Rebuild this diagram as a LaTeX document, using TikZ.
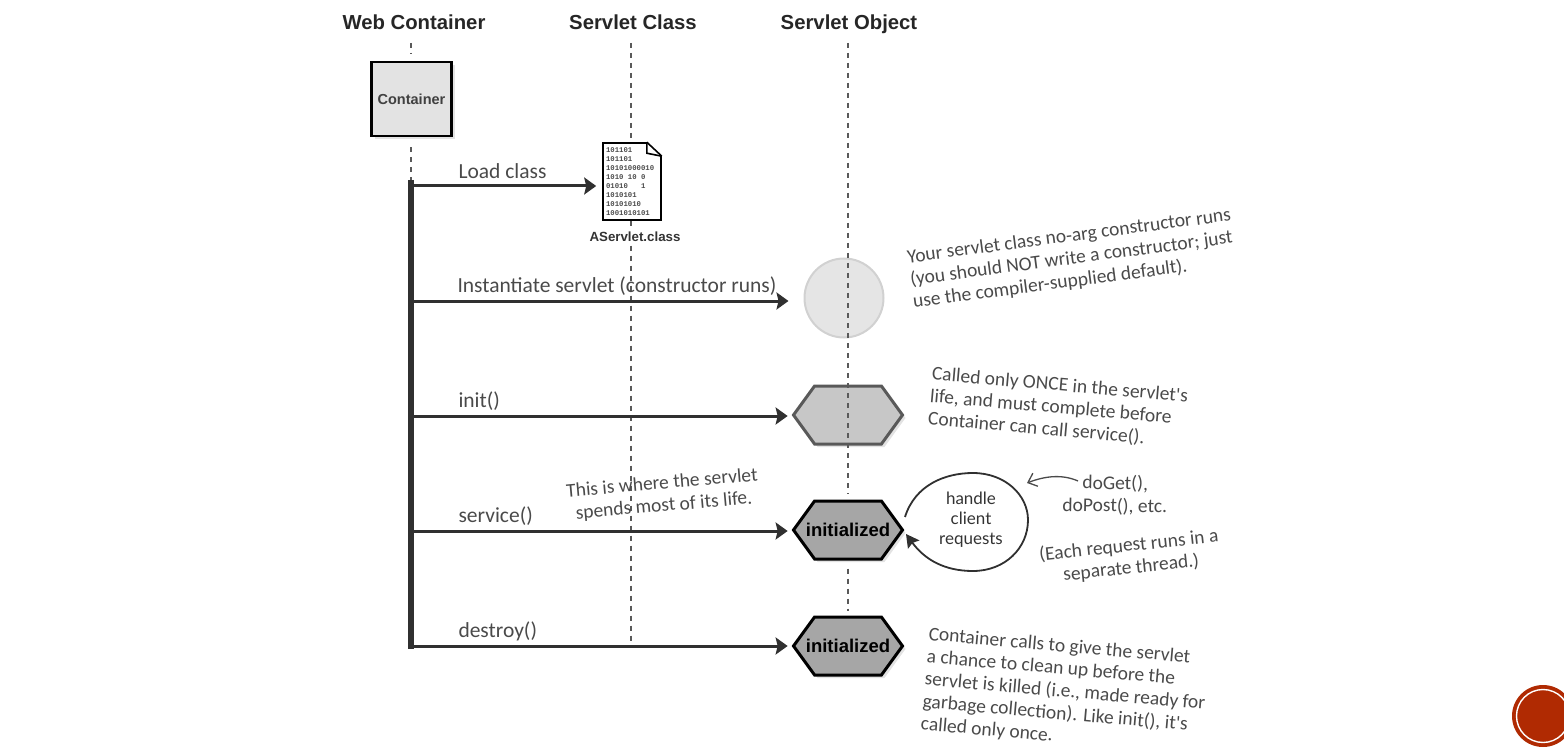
\documentclass[tikz,border=0pt]{standalone}
\usepackage{fontspec}
\setmainfont{Liberation Sans}
\setmonofont{Liberation Mono}
\newfontfamily\handfont{Carlito}
\newfontfamily\bubblefont{Lato}
\usetikzlibrary{arrows.meta,shapes.symbols,shadows}
\definecolor{handgray}{HTML}{4A4A4A}
\definecolor{darkline}{HTML}{303030}
\definecolor{badgered}{HTML}{B02A02}
\tikzset{
  titlelabel/.style={font=\fontsize{20.3}{24}\selectfont\bfseries, text=black!85, anchor=base},
  lifeline/.style={dash pattern=on 5pt off 5pt, line width=1.2pt, black!65},
  callarrow/.style={-{Stealth[length=12pt,width=17pt,inset=2pt]}, line width=3pt, darkline},
  calllabel/.style={font=\handfont\fontsize{21.5}{24}\selectfont, text=handgray, anchor=west, inner sep=0pt},
  handnote/.style={font=\handfont\fontsize{19.5}{22.5}\selectfont, text=handgray, inner sep=0pt},
  objecthex/.style={signal, signal to=west and east, signal pointer angle=108, minimum width=109pt,
    minimum height=58pt, inner sep=0pt, line width=3pt, font=\fontsize{18.5}{20}\selectfont\bfseries,
    drop shadow={shadow xshift=3pt, shadow yshift=-3pt, fill=black!22}},
}
\begin{document}
\begin{tikzpicture}[x=1pt, y=-1pt, line width=1pt]
  \useasboundingbox (0,0) rectangle (1564,754);
  % column titles
  \node[titlelabel] (webtitle) at (414,30) {Web Container};
  \node[titlelabel] (classtitle) at (633,30) {Servlet Class};
  \node[titlelabel] (objecttitle) at (849,30) {Servlet Object};
  \coordinate (webtop) at (411,43);
  \coordinate (classtop) at (631,43);
  \coordinate (classbot) at (631,645);
  \coordinate (objecttop) at (848,43);
  \coordinate (bartop) at (411,180);
  \coordinate (barbot) at (411,649);
  % the five calls start here
  \coordinate (loadstart) at (411,186);
  \coordinate (newstart) at (411,301);
  \coordinate (initstart) at (411,416);
  \coordinate (servicestart) at (411,531);
  \coordinate (destroystart) at (411,646);
  % container
  \node[draw=black, fill=black!11, line width=2.8pt, minimum width=80pt, minimum height=74pt, inner sep=0pt,
    font=\fontsize{14.5}{18}\selectfont\bfseries, text=black!75,
    drop shadow={shadow xshift=3pt, shadow yshift=-3pt, fill=black!22}] (container) at (411.5,99) {Container};
  \draw[lifeline, shorten >=7pt] (webtop) -- (webtop |- container.north);
  \draw[lifeline, shorten <=10pt] (bartop |- container.south) -- (bartop);
  % class file
  \node[draw=black, fill=white, line width=1.6pt, minimum width=58pt, minimum height=77pt, inner sep=0pt] (classfile) at (632,181.5)
    {\begin{minipage}{52pt}\ttfamily\bfseries\fontsize{7.3}{8.9}\selectfont\color{black!70}101101\\101101\\10101000010\\1010 10 0\\01010~~~1\\1010101\\10101010\\1001010101\end{minipage}};
  \draw[lifeline] (classtop) -- (classtop |- classfile.north);
  \fill[white] (classfile.north east) ++(-15,-1) rectangle ++(16,15);
  \draw[line width=1.6pt] (classfile.north east) ++(-15,0) -- ++(15,14);
  \draw[line width=1.6pt] (classfile.north east) ++(-15,0) -- ++(0,11) -- ++(15,3);
  \node[font=\fontsize{13.3}{17}\selectfont\bfseries, text=black!80] (classname) at (635,237) {AServlet.class};
  \draw[lifeline] (classbot |- classfile.south) -- (classbot |- classname.north);
  \draw[lifeline] (classbot |- classname.south) -- (classbot);
  % servlet object states
  \node[circle, draw=black!18, fill=black!10, line width=2pt, minimum size=79pt, inner sep=0pt] (objectnew) at (844,298) {};
  \node[objecthex, draw=black!65, fill=black!22] (hexinit) at (848,415) {};
  \node[objecthex, draw=black, fill=black!35] (hexservice) at (848,530) {\makebox[0pt]{initialized}};
  \node[objecthex, draw=black, fill=black!35] (hexdestroy) at (848,646) {\makebox[0pt]{initialized}};
  \draw[lifeline, shorten >=6pt] (objecttop) -- (hexservice.north);
  \draw[lifeline, shorten <=8pt, shorten >=5pt] (hexservice.south) -- (hexdestroy.north);
  % heavy bar and calls
  \draw[line width=5.5pt, darkline] (bartop) -- (barbot);
  \draw[callarrow, shorten >=6pt] (loadstart) -- (loadstart -| classfile.west);
  \draw[callarrow, shorten >=15pt] (newstart) -- (newstart -| objectnew.west);
  \draw[callarrow, shorten >=4pt] (initstart) -- (initstart -| hexinit.west);
  \draw[callarrow, shorten >=4pt] (servicestart) -- (servicestart -| hexservice.west);
  \draw[callarrow, shorten >=4pt] (destroystart) -- (destroystart -| hexdestroy.west);
  \node[calllabel] (loadlabel) at (458,171) {Load class};
  \node[calllabel] (newlabel) at (457,286) {Instantiate servlet (constructor runs)};
  \node[calllabel] (initlabel) at (458,401) {init()};
  \node[calllabel] (servicelabel) at (458,516) {service()};
  \node[calllabel] (destroylabel) at (458,631) {destroy()};
  % request bubble
  \coordinate (bubblestart) at (905,517);
  \coordinate (bubbleend) at (906,534);
  \node[font=\bubblefont\fontsize{17}{20}\selectfont, align=center, text=black!80, inner sep=0pt] (requests) at (971,520) {handle\\client\\requests};
  \draw[darkline, line width=1.8pt, -{Stealth[length=13pt,width=14pt,inset=2pt]}] (bubblestart) .. controls (915,485) and (945,473) .. (973,473)
    .. controls (1005,473) and (1028,495) .. (1028,520) .. controls (1028,548) and (1005,571) .. (973,571)
    .. controls (945,571) and (925,560) .. (bubbleend);
  % hand notes
  \node[handnote, align=center, rotate=5] (lifenote) at (663,495) {This is where the servlet\\spends most of its life.};
  \node[handnote, align=left, rotate=7.5] (ctornote) at (1072,259) {Your servlet class no-arg constructor runs\\(you should NOT write a constructor; just\\use the compiler-supplied default).};
  \node[handnote, align=left, rotate=-5] (oncenote) at (1058,408) {Called only ONCE in the servlet's\\life, and must complete before\\Container can call service().};
  \node[handnote, align=center, rotate=-1] (getnote) at (1115,495) {doGet(),\\doPost(), etc.};
  \node[handnote, align=center, rotate=6] (threadnote) at (1130,557) {(Each request runs in a\\separate thread.)};
  \node[handnote, align=left, rotate=-5] (destroynote) at (1065,692) {Container calls to give the servlet\\a chance to clean up before the\\servlet is killed (i.e., made ready for\\garbage collection). Like init(), it's\\called only once.};
  \coordinate (getstart) at (1078,481);
  \coordinate (getend) at (1027,483);
  \draw[handgray, line width=1.3pt, -{Straight Barb[length=8pt,width=14pt]}] (getstart) .. controls (1062,474) and (1045,476) .. (getend);
  % corner badge
  \node[circle, fill=badgered, minimum size=62pt, inner sep=0pt] (badge) at (1543,716) {};
  \draw[white, line width=1.4pt] (badge.center) circle (26.5pt);
\end{tikzpicture}
\end{document}
